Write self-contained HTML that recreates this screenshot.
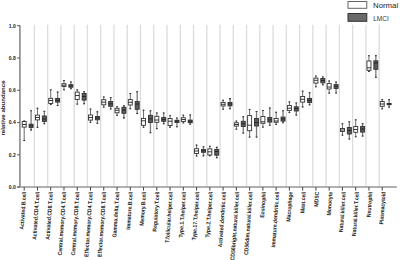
<!DOCTYPE html><html><head><meta charset="utf-8"><style>html,body{margin:0;padding:0;background:#fff;}body{width:400px;height:260px;overflow:hidden;}svg{display:block;}text{font-family:"Liberation Sans",sans-serif;}</style></head><body>
<svg width="400" height="260" viewBox="0 0 400 260">
<rect width="400" height="260" fill="#fff"/>
<line x1="34.4" y1="24.7" x2="34.4" y2="187.1" stroke="#dcdcdc" stroke-width="1.3"/>
<line x1="47.66" y1="24.7" x2="47.66" y2="187.1" stroke="#dcdcdc" stroke-width="1.3"/>
<line x1="60.92" y1="24.7" x2="60.92" y2="187.1" stroke="#dcdcdc" stroke-width="1.3"/>
<line x1="74.18" y1="24.7" x2="74.18" y2="187.1" stroke="#dcdcdc" stroke-width="1.3"/>
<line x1="87.44" y1="24.7" x2="87.44" y2="187.1" stroke="#dcdcdc" stroke-width="1.3"/>
<line x1="100.7" y1="24.7" x2="100.7" y2="187.1" stroke="#dcdcdc" stroke-width="1.3"/>
<line x1="113.96" y1="24.7" x2="113.96" y2="187.1" stroke="#dcdcdc" stroke-width="1.3"/>
<line x1="127.22" y1="24.7" x2="127.22" y2="187.1" stroke="#dcdcdc" stroke-width="1.3"/>
<line x1="140.48" y1="24.7" x2="140.48" y2="187.1" stroke="#dcdcdc" stroke-width="1.3"/>
<line x1="153.74" y1="24.7" x2="153.74" y2="187.1" stroke="#dcdcdc" stroke-width="1.3"/>
<line x1="167" y1="24.7" x2="167" y2="187.1" stroke="#dcdcdc" stroke-width="1.3"/>
<line x1="180.26" y1="24.7" x2="180.26" y2="187.1" stroke="#dcdcdc" stroke-width="1.3"/>
<line x1="193.52" y1="24.7" x2="193.52" y2="187.1" stroke="#dcdcdc" stroke-width="1.3"/>
<line x1="206.78" y1="24.7" x2="206.78" y2="187.1" stroke="#dcdcdc" stroke-width="1.3"/>
<line x1="220.04" y1="24.7" x2="220.04" y2="187.1" stroke="#dcdcdc" stroke-width="1.3"/>
<line x1="233.3" y1="24.7" x2="233.3" y2="187.1" stroke="#dcdcdc" stroke-width="1.3"/>
<line x1="246.56" y1="24.7" x2="246.56" y2="187.1" stroke="#dcdcdc" stroke-width="1.3"/>
<line x1="259.82" y1="24.7" x2="259.82" y2="187.1" stroke="#dcdcdc" stroke-width="1.3"/>
<line x1="273.08" y1="24.7" x2="273.08" y2="187.1" stroke="#dcdcdc" stroke-width="1.3"/>
<line x1="286.34" y1="24.7" x2="286.34" y2="187.1" stroke="#dcdcdc" stroke-width="1.3"/>
<line x1="299.6" y1="24.7" x2="299.6" y2="187.1" stroke="#dcdcdc" stroke-width="1.3"/>
<line x1="312.86" y1="24.7" x2="312.86" y2="187.1" stroke="#dcdcdc" stroke-width="1.3"/>
<line x1="326.12" y1="24.7" x2="326.12" y2="187.1" stroke="#dcdcdc" stroke-width="1.3"/>
<line x1="339.38" y1="24.7" x2="339.38" y2="187.1" stroke="#dcdcdc" stroke-width="1.3"/>
<line x1="352.64" y1="24.7" x2="352.64" y2="187.1" stroke="#dcdcdc" stroke-width="1.3"/>
<line x1="365.9" y1="24.7" x2="365.9" y2="187.1" stroke="#dcdcdc" stroke-width="1.3"/>
<line x1="379.16" y1="24.7" x2="379.16" y2="187.1" stroke="#dcdcdc" stroke-width="1.3"/>
<line x1="19.9" y1="25.2" x2="19.9" y2="187.1" stroke="#969696" stroke-width="1.8"/>
<line x1="17.1" y1="187.1" x2="396.8" y2="187.1" stroke="#969696" stroke-width="1.5"/>
<line x1="17.1" y1="187.1" x2="19.9" y2="187.1" stroke="#555" stroke-width="1"/>
<text x="15.8" y="188.9" font-size="5.0" font-weight="bold" fill="#222" text-anchor="end">0.0</text>
<line x1="17.1" y1="154.82" x2="19.9" y2="154.82" stroke="#555" stroke-width="1"/>
<text x="15.8" y="156.62" font-size="5.0" font-weight="bold" fill="#222" text-anchor="end">0.2</text>
<line x1="17.1" y1="122.54" x2="19.9" y2="122.54" stroke="#555" stroke-width="1"/>
<text x="15.8" y="124.34" font-size="5.0" font-weight="bold" fill="#222" text-anchor="end">0.4</text>
<line x1="17.1" y1="90.26" x2="19.9" y2="90.26" stroke="#555" stroke-width="1"/>
<text x="15.8" y="92.06" font-size="5.0" font-weight="bold" fill="#222" text-anchor="end">0.6</text>
<line x1="17.1" y1="57.98" x2="19.9" y2="57.98" stroke="#555" stroke-width="1"/>
<text x="15.8" y="59.78" font-size="5.0" font-weight="bold" fill="#222" text-anchor="end">0.8</text>
<line x1="17.1" y1="25.7" x2="19.9" y2="25.7" stroke="#555" stroke-width="1"/>
<text x="15.8" y="27.5" font-size="5.0" font-weight="bold" fill="#222" text-anchor="end">1.0</text>
<text transform="translate(5.1,108) rotate(-90)" font-size="6.1" font-weight="bold" fill="#222" text-anchor="middle">relative abundance</text>
<line x1="24.2" y1="187.1" x2="24.2" y2="190.7" stroke="#333" stroke-width="0.9"/>
<line x1="24.2" y1="120.5" x2="24.2" y2="141" stroke="#444" stroke-width="0.8"/>
<line x1="23.3" y1="121" x2="25.1" y2="121" stroke="#333" stroke-width="1.1"/>
<line x1="23.3" y1="140.5" x2="25.1" y2="140.5" stroke="#333" stroke-width="1.1"/>
<rect x="22.2" y="121.5" width="4" height="5.6" fill="#fff" stroke="#333" stroke-width="0.9"/>
<line x1="22.2" y1="124.5" x2="26.2" y2="124.5" stroke="#222" stroke-width="0.9"/>
<line x1="31.1" y1="110.2" x2="31.1" y2="130.4" stroke="#7a7a7a" stroke-width="1.3"/>
<line x1="30.2" y1="110.7" x2="32" y2="110.7" stroke="#333" stroke-width="1.1"/>
<line x1="30.2" y1="129.9" x2="32" y2="129.9" stroke="#333" stroke-width="1.1"/>
<rect x="29.1" y="124.2" width="4" height="3.3" fill="#5a5a5a" stroke="#333" stroke-width="0.9"/>
<line x1="29.1" y1="125.8" x2="33.1" y2="125.8" stroke="#222" stroke-width="0.9"/>
<text transform="translate(26.2,191.8) rotate(-86) scale(1,1.12)" font-size="5.1" font-weight="bold" fill="#1a1a1a" text-anchor="end">Activated.B.cell</text>
<line x1="37.46" y1="187.1" x2="37.46" y2="190.7" stroke="#333" stroke-width="0.9"/>
<line x1="37.46" y1="107.8" x2="37.46" y2="127.8" stroke="#444" stroke-width="0.8"/>
<line x1="36.56" y1="108.3" x2="38.36" y2="108.3" stroke="#333" stroke-width="1.1"/>
<line x1="36.56" y1="127.3" x2="38.36" y2="127.3" stroke="#333" stroke-width="1.1"/>
<rect x="35.46" y="115.1" width="4" height="4.8" fill="#fff" stroke="#333" stroke-width="0.9"/>
<line x1="35.46" y1="117.5" x2="39.46" y2="117.5" stroke="#222" stroke-width="0.9"/>
<line x1="44.36" y1="110.9" x2="44.36" y2="124.2" stroke="#7a7a7a" stroke-width="1.3"/>
<line x1="43.46" y1="111.4" x2="45.26" y2="111.4" stroke="#333" stroke-width="1.1"/>
<line x1="43.46" y1="123.7" x2="45.26" y2="123.7" stroke="#333" stroke-width="1.1"/>
<rect x="42.36" y="116" width="4" height="5.5" fill="#5a5a5a" stroke="#333" stroke-width="0.9"/>
<line x1="42.36" y1="119" x2="46.36" y2="119" stroke="#222" stroke-width="0.9"/>
<text transform="translate(39.51,191.8) rotate(-86) scale(1,1.12)" font-size="5.1" font-weight="bold" fill="#1a1a1a" text-anchor="end">Activated.CD4.T.cell</text>
<line x1="50.72" y1="187.1" x2="50.72" y2="190.7" stroke="#333" stroke-width="0.9"/>
<line x1="50.72" y1="89.3" x2="50.72" y2="105" stroke="#444" stroke-width="0.8"/>
<line x1="49.82" y1="89.8" x2="51.62" y2="89.8" stroke="#333" stroke-width="1.1"/>
<line x1="49.82" y1="104.5" x2="51.62" y2="104.5" stroke="#333" stroke-width="1.1"/>
<rect x="48.72" y="98.3" width="4" height="5.2" fill="#fff" stroke="#333" stroke-width="0.9"/>
<line x1="48.72" y1="100.5" x2="52.72" y2="100.5" stroke="#222" stroke-width="0.9"/>
<line x1="57.62" y1="91.5" x2="57.62" y2="106" stroke="#7a7a7a" stroke-width="1.3"/>
<line x1="56.72" y1="92" x2="58.52" y2="92" stroke="#333" stroke-width="1.1"/>
<line x1="56.72" y1="105.5" x2="58.52" y2="105.5" stroke="#333" stroke-width="1.1"/>
<rect x="55.62" y="98.5" width="4" height="3.6" fill="#5a5a5a" stroke="#333" stroke-width="0.9"/>
<line x1="55.62" y1="100.3" x2="59.62" y2="100.3" stroke="#222" stroke-width="0.9"/>
<text transform="translate(52.82,191.8) rotate(-86) scale(1,1.12)" font-size="5.1" font-weight="bold" fill="#1a1a1a" text-anchor="end">Activated.CD8.T.cell</text>
<line x1="63.98" y1="187.1" x2="63.98" y2="190.7" stroke="#333" stroke-width="0.9"/>
<line x1="63.98" y1="80" x2="63.98" y2="90.3" stroke="#444" stroke-width="0.8"/>
<line x1="63.08" y1="80.5" x2="64.88" y2="80.5" stroke="#333" stroke-width="1.1"/>
<line x1="63.08" y1="89.8" x2="64.88" y2="89.8" stroke="#333" stroke-width="1.1"/>
<rect x="61.98" y="83.7" width="4" height="2.8" fill="#fff" stroke="#333" stroke-width="0.9"/>
<line x1="61.98" y1="85.2" x2="65.98" y2="85.2" stroke="#222" stroke-width="0.9"/>
<line x1="70.88" y1="81.5" x2="70.88" y2="89.2" stroke="#7a7a7a" stroke-width="1.3"/>
<line x1="69.98" y1="82" x2="71.78" y2="82" stroke="#333" stroke-width="1.1"/>
<line x1="69.98" y1="88.7" x2="71.78" y2="88.7" stroke="#333" stroke-width="1.1"/>
<rect x="68.88" y="84.7" width="4" height="2.5" fill="#5a5a5a" stroke="#333" stroke-width="0.9"/>
<line x1="68.88" y1="86" x2="72.88" y2="86" stroke="#222" stroke-width="0.9"/>
<text transform="translate(66.13,191.8) rotate(-86) scale(1,1.12)" font-size="5.1" font-weight="bold" fill="#1a1a1a" text-anchor="end">Central.memory.CD4.T.cell</text>
<line x1="77.24" y1="187.1" x2="77.24" y2="190.7" stroke="#333" stroke-width="0.9"/>
<line x1="77.24" y1="89.3" x2="77.24" y2="104.6" stroke="#444" stroke-width="0.8"/>
<line x1="76.34" y1="89.8" x2="78.14" y2="89.8" stroke="#333" stroke-width="1.1"/>
<line x1="76.34" y1="104.1" x2="78.14" y2="104.1" stroke="#333" stroke-width="1.1"/>
<rect x="75.24" y="92.1" width="4" height="7.4" fill="#fff" stroke="#333" stroke-width="0.9"/>
<line x1="75.24" y1="95.5" x2="79.24" y2="95.5" stroke="#222" stroke-width="0.9"/>
<line x1="84.14" y1="91.3" x2="84.14" y2="104.2" stroke="#7a7a7a" stroke-width="1.3"/>
<line x1="83.24" y1="91.8" x2="85.04" y2="91.8" stroke="#333" stroke-width="1.1"/>
<line x1="83.24" y1="103.7" x2="85.04" y2="103.7" stroke="#333" stroke-width="1.1"/>
<rect x="82.14" y="93.5" width="4" height="6.6" fill="#5a5a5a" stroke="#333" stroke-width="0.9"/>
<line x1="82.14" y1="96.5" x2="86.14" y2="96.5" stroke="#222" stroke-width="0.9"/>
<text transform="translate(79.44,191.8) rotate(-86) scale(1,1.12)" font-size="5.1" font-weight="bold" fill="#1a1a1a" text-anchor="end">Central.memory.CD8.T.cell</text>
<line x1="90.5" y1="187.1" x2="90.5" y2="190.7" stroke="#333" stroke-width="0.9"/>
<line x1="90.5" y1="108.6" x2="90.5" y2="122.8" stroke="#444" stroke-width="0.8"/>
<line x1="89.6" y1="109.1" x2="91.4" y2="109.1" stroke="#333" stroke-width="1.1"/>
<line x1="89.6" y1="122.3" x2="91.4" y2="122.3" stroke="#333" stroke-width="1.1"/>
<rect x="88.5" y="115" width="4" height="5.1" fill="#fff" stroke="#333" stroke-width="0.9"/>
<line x1="88.5" y1="117.5" x2="92.5" y2="117.5" stroke="#222" stroke-width="0.9"/>
<line x1="97.4" y1="111.3" x2="97.4" y2="123.8" stroke="#7a7a7a" stroke-width="1.3"/>
<line x1="96.5" y1="111.8" x2="98.3" y2="111.8" stroke="#333" stroke-width="1.1"/>
<line x1="96.5" y1="123.3" x2="98.3" y2="123.3" stroke="#333" stroke-width="1.1"/>
<rect x="95.4" y="116.5" width="4" height="3.3" fill="#5a5a5a" stroke="#333" stroke-width="0.9"/>
<line x1="95.4" y1="118" x2="99.4" y2="118" stroke="#222" stroke-width="0.9"/>
<text transform="translate(92.75,191.8) rotate(-86) scale(1,1.12)" font-size="5.1" font-weight="bold" fill="#1a1a1a" text-anchor="end">Effector.memory.CD4.T.cell</text>
<line x1="103.76" y1="187.1" x2="103.76" y2="190.7" stroke="#333" stroke-width="0.9"/>
<line x1="103.76" y1="96.5" x2="103.76" y2="107.6" stroke="#444" stroke-width="0.8"/>
<line x1="102.86" y1="97" x2="104.66" y2="97" stroke="#333" stroke-width="1.1"/>
<line x1="102.86" y1="107.1" x2="104.66" y2="107.1" stroke="#333" stroke-width="1.1"/>
<rect x="101.76" y="99.7" width="4" height="5.1" fill="#fff" stroke="#333" stroke-width="0.9"/>
<line x1="101.76" y1="102.2" x2="105.76" y2="102.2" stroke="#222" stroke-width="0.9"/>
<line x1="110.66" y1="97.2" x2="110.66" y2="109.5" stroke="#7a7a7a" stroke-width="1.3"/>
<line x1="109.76" y1="97.7" x2="111.56" y2="97.7" stroke="#333" stroke-width="1.1"/>
<line x1="109.76" y1="109" x2="111.56" y2="109" stroke="#333" stroke-width="1.1"/>
<rect x="108.66" y="101.5" width="4" height="4.8" fill="#5a5a5a" stroke="#333" stroke-width="0.9"/>
<line x1="108.66" y1="103.8" x2="112.66" y2="103.8" stroke="#222" stroke-width="0.9"/>
<text transform="translate(106.06,191.8) rotate(-86) scale(1,1.12)" font-size="5.1" font-weight="bold" fill="#1a1a1a" text-anchor="end">Effector.memory.CD8.T.cell</text>
<line x1="117.02" y1="187.1" x2="117.02" y2="190.7" stroke="#333" stroke-width="0.9"/>
<line x1="117.02" y1="106.3" x2="117.02" y2="115.8" stroke="#444" stroke-width="0.8"/>
<line x1="116.12" y1="106.8" x2="117.92" y2="106.8" stroke="#333" stroke-width="1.1"/>
<line x1="116.12" y1="115.3" x2="117.92" y2="115.3" stroke="#333" stroke-width="1.1"/>
<rect x="115.02" y="108.3" width="4" height="4.5" fill="#fff" stroke="#333" stroke-width="0.9"/>
<line x1="115.02" y1="110.3" x2="119.02" y2="110.3" stroke="#222" stroke-width="0.9"/>
<line x1="123.92" y1="105.4" x2="123.92" y2="118.4" stroke="#7a7a7a" stroke-width="1.3"/>
<line x1="123.02" y1="105.9" x2="124.82" y2="105.9" stroke="#333" stroke-width="1.1"/>
<line x1="123.02" y1="117.9" x2="124.82" y2="117.9" stroke="#333" stroke-width="1.1"/>
<rect x="121.92" y="107.3" width="4" height="6" fill="#5a5a5a" stroke="#333" stroke-width="0.9"/>
<line x1="121.92" y1="110" x2="125.92" y2="110" stroke="#222" stroke-width="0.9"/>
<text transform="translate(119.37,191.8) rotate(-86) scale(1,1.12)" font-size="5.1" font-weight="bold" fill="#1a1a1a" text-anchor="end">Gamma.delta.T.cell</text>
<line x1="130.28" y1="187.1" x2="130.28" y2="190.7" stroke="#333" stroke-width="0.9"/>
<line x1="130.28" y1="93" x2="130.28" y2="109.2" stroke="#444" stroke-width="0.8"/>
<line x1="129.38" y1="93.5" x2="131.18" y2="93.5" stroke="#333" stroke-width="1.1"/>
<line x1="129.38" y1="108.7" x2="131.18" y2="108.7" stroke="#333" stroke-width="1.1"/>
<rect x="128.28" y="99.6" width="4" height="5.4" fill="#fff" stroke="#333" stroke-width="0.9"/>
<line x1="128.28" y1="102.3" x2="132.28" y2="102.3" stroke="#222" stroke-width="0.9"/>
<line x1="137.18" y1="91.3" x2="137.18" y2="114" stroke="#7a7a7a" stroke-width="1.3"/>
<line x1="136.28" y1="91.8" x2="138.08" y2="91.8" stroke="#333" stroke-width="1.1"/>
<line x1="136.28" y1="113.5" x2="138.08" y2="113.5" stroke="#333" stroke-width="1.1"/>
<rect x="135.18" y="101.5" width="4" height="7.8" fill="#5a5a5a" stroke="#333" stroke-width="0.9"/>
<line x1="135.18" y1="104" x2="139.18" y2="104" stroke="#222" stroke-width="0.9"/>
<text transform="translate(132.68,191.8) rotate(-86) scale(1,1.12)" font-size="5.1" font-weight="bold" fill="#1a1a1a" text-anchor="end">Immature.B.cell</text>
<line x1="143.54" y1="187.1" x2="143.54" y2="190.7" stroke="#333" stroke-width="0.9"/>
<line x1="143.54" y1="109.7" x2="143.54" y2="127.7" stroke="#444" stroke-width="0.8"/>
<line x1="142.64" y1="110.2" x2="144.44" y2="110.2" stroke="#333" stroke-width="1.1"/>
<line x1="142.64" y1="127.2" x2="144.44" y2="127.2" stroke="#333" stroke-width="1.1"/>
<rect x="141.54" y="118.4" width="4" height="6.9" fill="#fff" stroke="#333" stroke-width="0.9"/>
<line x1="141.54" y1="120.8" x2="145.54" y2="120.8" stroke="#222" stroke-width="0.9"/>
<line x1="150.44" y1="110.3" x2="150.44" y2="133.2" stroke="#7a7a7a" stroke-width="1.3"/>
<line x1="149.54" y1="110.8" x2="151.34" y2="110.8" stroke="#333" stroke-width="1.1"/>
<line x1="149.54" y1="132.7" x2="151.34" y2="132.7" stroke="#333" stroke-width="1.1"/>
<rect x="148.44" y="115.3" width="4" height="7.2" fill="#5a5a5a" stroke="#333" stroke-width="0.9"/>
<line x1="148.44" y1="118.8" x2="152.44" y2="118.8" stroke="#222" stroke-width="0.9"/>
<text transform="translate(145.99,191.8) rotate(-86) scale(1,1.12)" font-size="5.1" font-weight="bold" fill="#1a1a1a" text-anchor="end">Memory.B.cell</text>
<line x1="156.8" y1="187.1" x2="156.8" y2="190.7" stroke="#333" stroke-width="0.9"/>
<line x1="156.8" y1="112.5" x2="156.8" y2="129.1" stroke="#444" stroke-width="0.8"/>
<line x1="155.9" y1="113" x2="157.7" y2="113" stroke="#333" stroke-width="1.1"/>
<line x1="155.9" y1="128.6" x2="157.7" y2="128.6" stroke="#333" stroke-width="1.1"/>
<rect x="154.8" y="116.3" width="4" height="6" fill="#fff" stroke="#333" stroke-width="0.9"/>
<line x1="154.8" y1="120" x2="158.8" y2="120" stroke="#222" stroke-width="0.9"/>
<line x1="163.7" y1="112.5" x2="163.7" y2="124.2" stroke="#7a7a7a" stroke-width="1.3"/>
<line x1="162.8" y1="113" x2="164.6" y2="113" stroke="#333" stroke-width="1.1"/>
<line x1="162.8" y1="123.7" x2="164.6" y2="123.7" stroke="#333" stroke-width="1.1"/>
<rect x="161.7" y="117.5" width="4" height="3.8" fill="#5a5a5a" stroke="#333" stroke-width="0.9"/>
<line x1="161.7" y1="119.5" x2="165.7" y2="119.5" stroke="#222" stroke-width="0.9"/>
<text transform="translate(159.3,191.8) rotate(-86) scale(1,1.12)" font-size="5.1" font-weight="bold" fill="#1a1a1a" text-anchor="end">Regulatory.T.cell</text>
<line x1="170.06" y1="187.1" x2="170.06" y2="190.7" stroke="#333" stroke-width="0.9"/>
<line x1="170.06" y1="115.2" x2="170.06" y2="127.6" stroke="#444" stroke-width="0.8"/>
<line x1="169.16" y1="115.7" x2="170.96" y2="115.7" stroke="#333" stroke-width="1.1"/>
<line x1="169.16" y1="127.1" x2="170.96" y2="127.1" stroke="#333" stroke-width="1.1"/>
<rect x="168.06" y="118.5" width="4" height="7" fill="#fff" stroke="#333" stroke-width="0.9"/>
<line x1="168.06" y1="121.2" x2="172.06" y2="121.2" stroke="#222" stroke-width="0.9"/>
<line x1="176.96" y1="117.5" x2="176.96" y2="127.2" stroke="#7a7a7a" stroke-width="1.3"/>
<line x1="176.06" y1="118" x2="177.86" y2="118" stroke="#333" stroke-width="1.1"/>
<line x1="176.06" y1="126.7" x2="177.86" y2="126.7" stroke="#333" stroke-width="1.1"/>
<rect x="174.96" y="120.3" width="4" height="2.2" fill="#5a5a5a" stroke="#333" stroke-width="0.9"/>
<line x1="174.96" y1="121.2" x2="178.96" y2="121.2" stroke="#222" stroke-width="0.9"/>
<text transform="translate(172.61,191.8) rotate(-86) scale(1,1.12)" font-size="5.1" font-weight="bold" fill="#1a1a1a" text-anchor="end">T.follicular.helper.cell</text>
<line x1="183.32" y1="187.1" x2="183.32" y2="190.7" stroke="#333" stroke-width="0.9"/>
<line x1="183.32" y1="114.7" x2="183.32" y2="123.3" stroke="#444" stroke-width="0.8"/>
<line x1="182.42" y1="115.2" x2="184.22" y2="115.2" stroke="#333" stroke-width="1.1"/>
<line x1="182.42" y1="122.8" x2="184.22" y2="122.8" stroke="#333" stroke-width="1.1"/>
<rect x="181.32" y="117.7" width="4" height="3.8" fill="#fff" stroke="#333" stroke-width="0.9"/>
<line x1="181.32" y1="119.5" x2="185.32" y2="119.5" stroke="#222" stroke-width="0.9"/>
<line x1="190.22" y1="114.5" x2="190.22" y2="124.6" stroke="#7a7a7a" stroke-width="1.3"/>
<line x1="189.32" y1="115" x2="191.12" y2="115" stroke="#333" stroke-width="1.1"/>
<line x1="189.32" y1="124.1" x2="191.12" y2="124.1" stroke="#333" stroke-width="1.1"/>
<rect x="188.22" y="120.1" width="4" height="2.6" fill="#5a5a5a" stroke="#333" stroke-width="0.9"/>
<line x1="188.22" y1="121.3" x2="192.22" y2="121.3" stroke="#222" stroke-width="0.9"/>
<text transform="translate(185.92,191.8) rotate(-86) scale(1,1.12)" font-size="5.1" font-weight="bold" fill="#1a1a1a" text-anchor="end">Type.1.T.helper.cell</text>
<line x1="196.58" y1="187.1" x2="196.58" y2="190.7" stroke="#333" stroke-width="0.9"/>
<line x1="196.58" y1="144.6" x2="196.58" y2="156.4" stroke="#444" stroke-width="0.8"/>
<line x1="195.68" y1="145.1" x2="197.48" y2="145.1" stroke="#333" stroke-width="1.1"/>
<line x1="195.68" y1="155.9" x2="197.48" y2="155.9" stroke="#333" stroke-width="1.1"/>
<rect x="194.58" y="148.7" width="4" height="4.8" fill="#fff" stroke="#333" stroke-width="0.9"/>
<line x1="194.58" y1="151" x2="198.58" y2="151" stroke="#222" stroke-width="0.9"/>
<line x1="203.48" y1="146.3" x2="203.48" y2="156.3" stroke="#7a7a7a" stroke-width="1.3"/>
<line x1="202.58" y1="146.8" x2="204.38" y2="146.8" stroke="#333" stroke-width="1.1"/>
<line x1="202.58" y1="155.8" x2="204.38" y2="155.8" stroke="#333" stroke-width="1.1"/>
<rect x="201.48" y="149.5" width="4" height="2.8" fill="#5a5a5a" stroke="#333" stroke-width="0.9"/>
<line x1="201.48" y1="150.8" x2="205.48" y2="150.8" stroke="#222" stroke-width="0.9"/>
<text transform="translate(199.23,191.8) rotate(-86) scale(1,1.12)" font-size="5.1" font-weight="bold" fill="#1a1a1a" text-anchor="end">Type.17.T.helper.cell</text>
<line x1="209.84" y1="187.1" x2="209.84" y2="190.7" stroke="#333" stroke-width="0.9"/>
<line x1="209.84" y1="145.8" x2="209.84" y2="156.2" stroke="#444" stroke-width="0.8"/>
<line x1="208.94" y1="146.3" x2="210.74" y2="146.3" stroke="#333" stroke-width="1.1"/>
<line x1="208.94" y1="155.7" x2="210.74" y2="155.7" stroke="#333" stroke-width="1.1"/>
<rect x="207.84" y="148.9" width="4" height="6.1" fill="#fff" stroke="#333" stroke-width="0.9"/>
<line x1="207.84" y1="151.8" x2="211.84" y2="151.8" stroke="#222" stroke-width="0.9"/>
<line x1="216.74" y1="146.8" x2="216.74" y2="158.2" stroke="#7a7a7a" stroke-width="1.3"/>
<line x1="215.84" y1="147.3" x2="217.64" y2="147.3" stroke="#333" stroke-width="1.1"/>
<line x1="215.84" y1="157.7" x2="217.64" y2="157.7" stroke="#333" stroke-width="1.1"/>
<rect x="214.74" y="149.4" width="4" height="5.8" fill="#5a5a5a" stroke="#333" stroke-width="0.9"/>
<line x1="214.74" y1="151.5" x2="218.74" y2="151.5" stroke="#222" stroke-width="0.9"/>
<text transform="translate(212.54,191.8) rotate(-86) scale(1,1.12)" font-size="5.1" font-weight="bold" fill="#1a1a1a" text-anchor="end">Type.2.T.helper.cell</text>
<line x1="223.1" y1="187.1" x2="223.1" y2="190.7" stroke="#333" stroke-width="0.9"/>
<line x1="223.1" y1="99.7" x2="223.1" y2="109.6" stroke="#444" stroke-width="0.8"/>
<line x1="222.2" y1="100.2" x2="224" y2="100.2" stroke="#333" stroke-width="1.1"/>
<line x1="222.2" y1="109.1" x2="224" y2="109.1" stroke="#333" stroke-width="1.1"/>
<rect x="221.1" y="102.4" width="4" height="3.6" fill="#fff" stroke="#333" stroke-width="0.9"/>
<line x1="221.1" y1="104.3" x2="225.1" y2="104.3" stroke="#222" stroke-width="0.9"/>
<line x1="230" y1="98.1" x2="230" y2="109.2" stroke="#7a7a7a" stroke-width="1.3"/>
<line x1="229.1" y1="98.6" x2="230.9" y2="98.6" stroke="#333" stroke-width="1.1"/>
<line x1="229.1" y1="108.7" x2="230.9" y2="108.7" stroke="#333" stroke-width="1.1"/>
<rect x="228" y="102.5" width="4" height="3.4" fill="#5a5a5a" stroke="#333" stroke-width="0.9"/>
<line x1="228" y1="104" x2="232" y2="104" stroke="#222" stroke-width="0.9"/>
<text transform="translate(225.85,191.8) rotate(-86) scale(1,1.12)" font-size="5.1" font-weight="bold" fill="#1a1a1a" text-anchor="end">Activated.dendritic.cell</text>
<line x1="236.36" y1="187.1" x2="236.36" y2="190.7" stroke="#333" stroke-width="0.9"/>
<line x1="236.36" y1="120.6" x2="236.36" y2="129.7" stroke="#444" stroke-width="0.8"/>
<line x1="235.46" y1="121.1" x2="237.26" y2="121.1" stroke="#333" stroke-width="1.1"/>
<line x1="235.46" y1="129.2" x2="237.26" y2="129.2" stroke="#333" stroke-width="1.1"/>
<rect x="234.36" y="122.8" width="4" height="3.3" fill="#fff" stroke="#333" stroke-width="0.9"/>
<line x1="234.36" y1="124.5" x2="238.36" y2="124.5" stroke="#222" stroke-width="0.9"/>
<line x1="243.26" y1="116.3" x2="243.26" y2="133.6" stroke="#7a7a7a" stroke-width="1.3"/>
<line x1="242.36" y1="116.8" x2="244.16" y2="116.8" stroke="#333" stroke-width="1.1"/>
<line x1="242.36" y1="133.1" x2="244.16" y2="133.1" stroke="#333" stroke-width="1.1"/>
<rect x="241.26" y="121.3" width="4" height="5.2" fill="#5a5a5a" stroke="#333" stroke-width="0.9"/>
<line x1="241.26" y1="123.8" x2="245.26" y2="123.8" stroke="#222" stroke-width="0.9"/>
<text transform="translate(239.16,191.8) rotate(-86) scale(1,1.12)" font-size="5.1" font-weight="bold" fill="#1a1a1a" text-anchor="end">CD56bright.natural.killer.cell</text>
<line x1="249.62" y1="187.1" x2="249.62" y2="190.7" stroke="#333" stroke-width="0.9"/>
<line x1="249.62" y1="109" x2="249.62" y2="137.6" stroke="#444" stroke-width="0.8"/>
<line x1="248.72" y1="109.5" x2="250.52" y2="109.5" stroke="#333" stroke-width="1.1"/>
<line x1="248.72" y1="137.1" x2="250.52" y2="137.1" stroke="#333" stroke-width="1.1"/>
<rect x="247.62" y="115.6" width="4" height="15.1" fill="#fff" stroke="#333" stroke-width="0.9"/>
<line x1="247.62" y1="125.2" x2="251.62" y2="125.2" stroke="#222" stroke-width="0.9"/>
<line x1="256.52" y1="111" x2="256.52" y2="137.6" stroke="#7a7a7a" stroke-width="1.3"/>
<line x1="255.62" y1="111.5" x2="257.42" y2="111.5" stroke="#333" stroke-width="1.1"/>
<line x1="255.62" y1="137.1" x2="257.42" y2="137.1" stroke="#333" stroke-width="1.1"/>
<rect x="254.52" y="118.5" width="4" height="7.5" fill="#5a5a5a" stroke="#333" stroke-width="0.9"/>
<line x1="254.52" y1="122.5" x2="258.52" y2="122.5" stroke="#222" stroke-width="0.9"/>
<text transform="translate(252.47,191.8) rotate(-86) scale(1,1.12)" font-size="5.1" font-weight="bold" fill="#1a1a1a" text-anchor="end">CD56dim.natural.killer.cell</text>
<line x1="262.88" y1="187.1" x2="262.88" y2="190.7" stroke="#333" stroke-width="0.9"/>
<line x1="262.88" y1="110" x2="262.88" y2="127.6" stroke="#444" stroke-width="0.8"/>
<line x1="261.98" y1="110.5" x2="263.78" y2="110.5" stroke="#333" stroke-width="1.1"/>
<line x1="261.98" y1="127.1" x2="263.78" y2="127.1" stroke="#333" stroke-width="1.1"/>
<rect x="260.88" y="116.5" width="4" height="6.8" fill="#fff" stroke="#333" stroke-width="0.9"/>
<line x1="260.88" y1="121.8" x2="264.88" y2="121.8" stroke="#222" stroke-width="0.9"/>
<line x1="269.78" y1="107.5" x2="269.78" y2="125.7" stroke="#7a7a7a" stroke-width="1.3"/>
<line x1="268.88" y1="108" x2="270.68" y2="108" stroke="#333" stroke-width="1.1"/>
<line x1="268.88" y1="125.2" x2="270.68" y2="125.2" stroke="#333" stroke-width="1.1"/>
<rect x="267.78" y="117.5" width="4" height="4.6" fill="#5a5a5a" stroke="#333" stroke-width="0.9"/>
<line x1="267.78" y1="119.8" x2="271.78" y2="119.8" stroke="#222" stroke-width="0.9"/>
<text transform="translate(265.78,191.8) rotate(-86) scale(1,1.12)" font-size="5.1" font-weight="bold" fill="#1a1a1a" text-anchor="end">Eosinophil</text>
<line x1="276.14" y1="187.1" x2="276.14" y2="190.7" stroke="#333" stroke-width="0.9"/>
<line x1="276.14" y1="111.8" x2="276.14" y2="125" stroke="#444" stroke-width="0.8"/>
<line x1="275.24" y1="112.3" x2="277.04" y2="112.3" stroke="#333" stroke-width="1.1"/>
<line x1="275.24" y1="124.5" x2="277.04" y2="124.5" stroke="#333" stroke-width="1.1"/>
<rect x="274.14" y="118.5" width="4" height="3.8" fill="#fff" stroke="#333" stroke-width="0.9"/>
<line x1="274.14" y1="121" x2="278.14" y2="121" stroke="#222" stroke-width="0.9"/>
<line x1="283.04" y1="110.3" x2="283.04" y2="123.2" stroke="#7a7a7a" stroke-width="1.3"/>
<line x1="282.14" y1="110.8" x2="283.94" y2="110.8" stroke="#333" stroke-width="1.1"/>
<line x1="282.14" y1="122.7" x2="283.94" y2="122.7" stroke="#333" stroke-width="1.1"/>
<rect x="281.04" y="117.1" width="4" height="4" fill="#5a5a5a" stroke="#333" stroke-width="0.9"/>
<line x1="281.04" y1="119" x2="285.04" y2="119" stroke="#222" stroke-width="0.9"/>
<text transform="translate(279.09,191.8) rotate(-86) scale(1,1.12)" font-size="5.1" font-weight="bold" fill="#1a1a1a" text-anchor="end">Immature.dendritic.cell</text>
<line x1="289.4" y1="187.1" x2="289.4" y2="190.7" stroke="#333" stroke-width="0.9"/>
<line x1="289.4" y1="101.4" x2="289.4" y2="113" stroke="#444" stroke-width="0.8"/>
<line x1="288.5" y1="101.9" x2="290.3" y2="101.9" stroke="#333" stroke-width="1.1"/>
<line x1="288.5" y1="112.5" x2="290.3" y2="112.5" stroke="#333" stroke-width="1.1"/>
<rect x="287.4" y="105.5" width="4" height="4.9" fill="#fff" stroke="#333" stroke-width="0.9"/>
<line x1="287.4" y1="108.2" x2="291.4" y2="108.2" stroke="#222" stroke-width="0.9"/>
<line x1="296.3" y1="102.5" x2="296.3" y2="115.5" stroke="#7a7a7a" stroke-width="1.3"/>
<line x1="295.4" y1="103" x2="297.2" y2="103" stroke="#333" stroke-width="1.1"/>
<line x1="295.4" y1="115" x2="297.2" y2="115" stroke="#333" stroke-width="1.1"/>
<rect x="294.3" y="106.8" width="4" height="4.2" fill="#5a5a5a" stroke="#333" stroke-width="0.9"/>
<line x1="294.3" y1="108.5" x2="298.3" y2="108.5" stroke="#222" stroke-width="0.9"/>
<text transform="translate(292.4,191.8) rotate(-86) scale(1,1.12)" font-size="5.1" font-weight="bold" fill="#1a1a1a" text-anchor="end">Macrophage</text>
<line x1="302.66" y1="187.1" x2="302.66" y2="190.7" stroke="#333" stroke-width="0.9"/>
<line x1="302.66" y1="90.7" x2="302.66" y2="107.4" stroke="#444" stroke-width="0.8"/>
<line x1="301.76" y1="91.2" x2="303.56" y2="91.2" stroke="#333" stroke-width="1.1"/>
<line x1="301.76" y1="106.9" x2="303.56" y2="106.9" stroke="#333" stroke-width="1.1"/>
<rect x="300.66" y="96.5" width="4" height="5.6" fill="#fff" stroke="#333" stroke-width="0.9"/>
<line x1="300.66" y1="99.3" x2="304.66" y2="99.3" stroke="#222" stroke-width="0.9"/>
<line x1="309.56" y1="92.3" x2="309.56" y2="105.3" stroke="#7a7a7a" stroke-width="1.3"/>
<line x1="308.66" y1="92.8" x2="310.46" y2="92.8" stroke="#333" stroke-width="1.1"/>
<line x1="308.66" y1="104.8" x2="310.46" y2="104.8" stroke="#333" stroke-width="1.1"/>
<rect x="307.56" y="98.4" width="4" height="4.1" fill="#5a5a5a" stroke="#333" stroke-width="0.9"/>
<line x1="307.56" y1="100.3" x2="311.56" y2="100.3" stroke="#222" stroke-width="0.9"/>
<text transform="translate(305.71,191.8) rotate(-86) scale(1,1.12)" font-size="5.1" font-weight="bold" fill="#1a1a1a" text-anchor="end">Mast.cell</text>
<line x1="315.92" y1="187.1" x2="315.92" y2="190.7" stroke="#333" stroke-width="0.9"/>
<line x1="315.92" y1="75.5" x2="315.92" y2="87.2" stroke="#444" stroke-width="0.8"/>
<line x1="315.02" y1="76" x2="316.82" y2="76" stroke="#333" stroke-width="1.1"/>
<line x1="315.02" y1="86.7" x2="316.82" y2="86.7" stroke="#333" stroke-width="1.1"/>
<rect x="313.92" y="78.1" width="4" height="5" fill="#fff" stroke="#333" stroke-width="0.9"/>
<line x1="313.92" y1="80.3" x2="317.92" y2="80.3" stroke="#222" stroke-width="0.9"/>
<line x1="322.82" y1="76.5" x2="322.82" y2="85.2" stroke="#7a7a7a" stroke-width="1.3"/>
<line x1="321.92" y1="77" x2="323.72" y2="77" stroke="#333" stroke-width="1.1"/>
<line x1="321.92" y1="84.7" x2="323.72" y2="84.7" stroke="#333" stroke-width="1.1"/>
<rect x="320.82" y="78.5" width="4" height="4.3" fill="#5a5a5a" stroke="#333" stroke-width="0.9"/>
<line x1="320.82" y1="80.5" x2="324.82" y2="80.5" stroke="#222" stroke-width="0.9"/>
<text transform="translate(319.02,191.8) rotate(-86) scale(1,1.12)" font-size="5.1" font-weight="bold" fill="#1a1a1a" text-anchor="end">MDSC</text>
<line x1="329.18" y1="187.1" x2="329.18" y2="190.7" stroke="#333" stroke-width="0.9"/>
<line x1="329.18" y1="80.5" x2="329.18" y2="93.6" stroke="#444" stroke-width="0.8"/>
<line x1="328.28" y1="81" x2="330.08" y2="81" stroke="#333" stroke-width="1.1"/>
<line x1="328.28" y1="93.1" x2="330.08" y2="93.1" stroke="#333" stroke-width="1.1"/>
<rect x="327.18" y="83.6" width="4" height="5.4" fill="#fff" stroke="#333" stroke-width="0.9"/>
<line x1="327.18" y1="87" x2="331.18" y2="87" stroke="#222" stroke-width="0.9"/>
<line x1="336.08" y1="81.5" x2="336.08" y2="93.5" stroke="#7a7a7a" stroke-width="1.3"/>
<line x1="335.18" y1="82" x2="336.98" y2="82" stroke="#333" stroke-width="1.1"/>
<line x1="335.18" y1="93" x2="336.98" y2="93" stroke="#333" stroke-width="1.1"/>
<rect x="334.08" y="84.6" width="4" height="3.9" fill="#5a5a5a" stroke="#333" stroke-width="0.9"/>
<line x1="334.08" y1="86.3" x2="338.08" y2="86.3" stroke="#222" stroke-width="0.9"/>
<text transform="translate(332.33,191.8) rotate(-86) scale(1,1.12)" font-size="5.1" font-weight="bold" fill="#1a1a1a" text-anchor="end">Monocyte</text>
<line x1="342.44" y1="187.1" x2="342.44" y2="190.7" stroke="#333" stroke-width="0.9"/>
<line x1="342.44" y1="123.3" x2="342.44" y2="135.6" stroke="#444" stroke-width="0.8"/>
<line x1="341.54" y1="123.8" x2="343.34" y2="123.8" stroke="#333" stroke-width="1.1"/>
<line x1="341.54" y1="135.1" x2="343.34" y2="135.1" stroke="#333" stroke-width="1.1"/>
<rect x="340.44" y="128.5" width="4" height="3" fill="#fff" stroke="#333" stroke-width="0.9"/>
<line x1="340.44" y1="130" x2="344.44" y2="130" stroke="#222" stroke-width="0.9"/>
<line x1="349.34" y1="121.3" x2="349.34" y2="139.5" stroke="#7a7a7a" stroke-width="1.3"/>
<line x1="348.44" y1="121.8" x2="350.24" y2="121.8" stroke="#333" stroke-width="1.1"/>
<line x1="348.44" y1="139" x2="350.24" y2="139" stroke="#333" stroke-width="1.1"/>
<rect x="347.34" y="127.5" width="4" height="6.5" fill="#5a5a5a" stroke="#333" stroke-width="0.9"/>
<line x1="347.34" y1="130.5" x2="351.34" y2="130.5" stroke="#222" stroke-width="0.9"/>
<text transform="translate(345.64,191.8) rotate(-86) scale(1,1.12)" font-size="5.1" font-weight="bold" fill="#1a1a1a" text-anchor="end">Natural.killer.cell</text>
<line x1="355.7" y1="187.1" x2="355.7" y2="190.7" stroke="#333" stroke-width="0.9"/>
<line x1="355.7" y1="119.3" x2="355.7" y2="137.2" stroke="#444" stroke-width="0.8"/>
<line x1="354.8" y1="119.8" x2="356.6" y2="119.8" stroke="#333" stroke-width="1.1"/>
<line x1="354.8" y1="136.7" x2="356.6" y2="136.7" stroke="#333" stroke-width="1.1"/>
<rect x="353.7" y="126.5" width="4" height="5.8" fill="#fff" stroke="#333" stroke-width="0.9"/>
<line x1="353.7" y1="129.5" x2="357.7" y2="129.5" stroke="#222" stroke-width="0.9"/>
<line x1="362.6" y1="123.2" x2="362.6" y2="136.5" stroke="#7a7a7a" stroke-width="1.3"/>
<line x1="361.7" y1="123.7" x2="363.5" y2="123.7" stroke="#333" stroke-width="1.1"/>
<line x1="361.7" y1="136" x2="363.5" y2="136" stroke="#333" stroke-width="1.1"/>
<rect x="360.6" y="126.5" width="4" height="5.6" fill="#5a5a5a" stroke="#333" stroke-width="0.9"/>
<line x1="360.6" y1="129" x2="364.6" y2="129" stroke="#222" stroke-width="0.9"/>
<text transform="translate(358.95,191.8) rotate(-86) scale(1,1.12)" font-size="5.1" font-weight="bold" fill="#1a1a1a" text-anchor="end">Natural.killer.T.cell</text>
<line x1="368.96" y1="187.1" x2="368.96" y2="190.7" stroke="#333" stroke-width="0.9"/>
<line x1="368.96" y1="55.2" x2="368.96" y2="71.9" stroke="#444" stroke-width="0.8"/>
<line x1="368.06" y1="55.7" x2="369.86" y2="55.7" stroke="#333" stroke-width="1.1"/>
<line x1="368.06" y1="71.4" x2="369.86" y2="71.4" stroke="#333" stroke-width="1.1"/>
<rect x="366.96" y="61" width="4" height="9.3" fill="#fff" stroke="#333" stroke-width="0.9"/>
<line x1="366.96" y1="67.8" x2="370.96" y2="67.8" stroke="#222" stroke-width="0.9"/>
<line x1="375.86" y1="55.2" x2="375.86" y2="77.8" stroke="#7a7a7a" stroke-width="1.3"/>
<line x1="374.96" y1="55.7" x2="376.76" y2="55.7" stroke="#333" stroke-width="1.1"/>
<line x1="374.96" y1="77.3" x2="376.76" y2="77.3" stroke="#333" stroke-width="1.1"/>
<rect x="373.86" y="60.8" width="4" height="8.5" fill="#5a5a5a" stroke="#333" stroke-width="0.9"/>
<line x1="373.86" y1="63" x2="377.86" y2="63" stroke="#222" stroke-width="0.9"/>
<text transform="translate(372.26,191.8) rotate(-86) scale(1,1.12)" font-size="5.1" font-weight="bold" fill="#1a1a1a" text-anchor="end">Neutrophil</text>
<line x1="382.22" y1="187.1" x2="382.22" y2="190.7" stroke="#333" stroke-width="0.9"/>
<line x1="382.22" y1="99.2" x2="382.22" y2="109.3" stroke="#444" stroke-width="0.8"/>
<line x1="381.32" y1="99.7" x2="383.12" y2="99.7" stroke="#333" stroke-width="1.1"/>
<line x1="381.32" y1="108.8" x2="383.12" y2="108.8" stroke="#333" stroke-width="1.1"/>
<rect x="380.22" y="101.5" width="4" height="4.8" fill="#fff" stroke="#333" stroke-width="0.9"/>
<line x1="380.22" y1="104" x2="384.22" y2="104" stroke="#222" stroke-width="0.9"/>
<line x1="389.12" y1="99.2" x2="389.12" y2="107.6" stroke="#7a7a7a" stroke-width="1.3"/>
<line x1="388.22" y1="99.7" x2="390.02" y2="99.7" stroke="#333" stroke-width="1.1"/>
<line x1="388.22" y1="107.1" x2="390.02" y2="107.1" stroke="#333" stroke-width="1.1"/>
<rect x="387.12" y="103.5" width="4" height="1.2" fill="#5a5a5a" stroke="#333" stroke-width="0.9"/>
<line x1="387.12" y1="104" x2="391.12" y2="104" stroke="#222" stroke-width="0.9"/>
<text transform="translate(385.57,191.8) rotate(-86) scale(1,1.12)" font-size="5.1" font-weight="bold" fill="#1a1a1a" text-anchor="end">Plasmacytoid</text>
<rect x="348" y="1.5" width="18.8" height="6.8" fill="#fff" stroke="#666" stroke-width="1"/>
<rect x="348" y="13.5" width="18.8" height="7.8" fill="#6a6a6a" stroke="#333" stroke-width="1"/>
<text x="373" y="8.1" font-size="7.7" fill="#222" textLength="25.2" lengthAdjust="spacingAndGlyphs">Normal</text>
<text x="373.2" y="21.4" font-size="7.2" fill="#333" textLength="15.6" lengthAdjust="spacingAndGlyphs">LMCI</text>
</svg></body></html>
